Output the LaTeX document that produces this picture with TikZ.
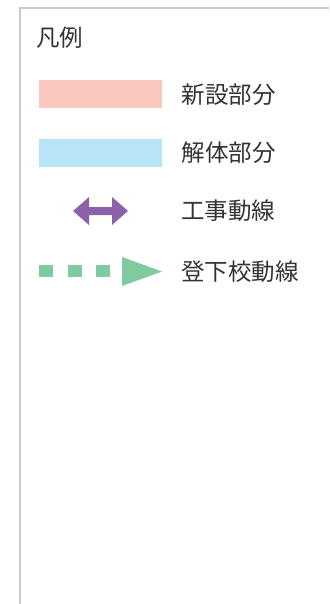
\documentclass[tikz,border=0pt]{standalone}
\usepackage{fontspec}
\newfontfamily\jpfont{Noto Sans CJK JP}
\usetikzlibrary{positioning}

\definecolor{framegray}{HTML}{CACACA}
\definecolor{textgray}{HTML}{333333}
\definecolor{newpink}{HTML}{F9C9C0}
\definecolor{oldblue}{HTML}{B8E4F8}
\definecolor{workpurple}{HTML}{8B62AA}
\definecolor{schoolgreen}{HTML}{7FCB9F}

\tikzset{
    legtext/.style={anchor=west, inner sep=0pt, text=textgray,
        font=\jpfont\fontsize{23.5pt}{26pt}\selectfont},
    patch/.style={fill=#1, draw=none, inner sep=0pt,
        minimum width=123pt, minimum height=28pt}
}

\begin{document}
\begin{tikzpicture}[x=1pt,y=-1pt]
                \useasboundingbox (0,0) rectangle (329,604);
                \draw[framegray, line width=1.3pt] (20,604) -- (20,8) -- (329,8);

                \node [legtext] (title) at (36,38) {凡例};

                \node [patch=newpink, anchor=north west] (newbox) at (39,80) {};
                \node [legtext, right = 19pt of newbox] (newtext) {新設部分};

                \node [patch=oldblue, below = 30pt of newbox] (oldbox) {};
                \node [legtext, right = 19pt of oldbox] (oldtext) {解体部分};

                \coordinate (workarrow) at (100.5,211);
                \fill[workpurple] (workarrow) ++(-27.5,0) -- ++(16,-14) -- ++(0,10)
                        -- ++(23,0) -- ++(0,-10) -- ++(16,14) -- ++(-16,14)
                        -- ++(0,-10) -- ++(-23,0) -- ++(0,10) -- cycle;
                \node [legtext] (worktext) at (181,211) {工事動線};

                \foreach \xs in {39,67.5,96}
                    \fill[schoolgreen] (\xs,265) rectangle ++(14,12);
                \fill[schoolgreen] (122,257) -- (162,271.5) -- (122,286) -- cycle;
                \node [legtext] (schooltext) at (181,271.5) {登下校動線};
            \end{tikzpicture}
\end{document}
